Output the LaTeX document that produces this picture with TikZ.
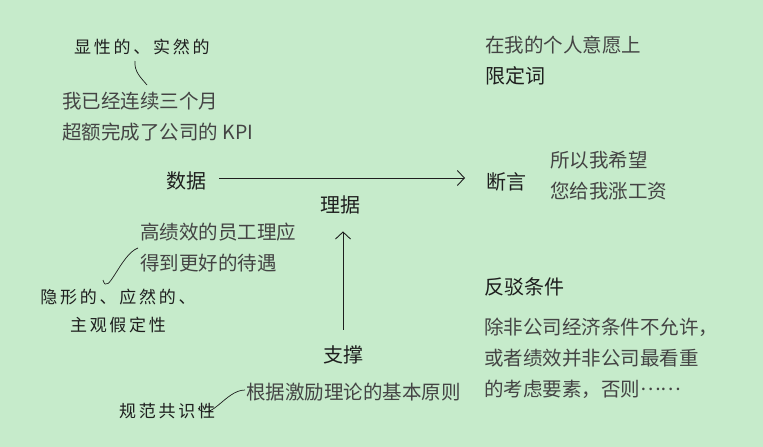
\documentclass[tikz,border=0pt]{standalone}
\usepackage{fontspec}
\usetikzlibrary{arrows.meta}
\newfontfamily\cjk{Noto Sans CJK SC}
\newfontfamily\cjknote[LetterSpace=16]{Noto Sans CJK SC}
\definecolor{bgGreen}{RGB}{198,235,203}
\definecolor{inkDark}{RGB}{30,30,30}
\definecolor{inkBody}{RGB}{68,68,68}
\tikzset{
  part/.style={inner sep=0pt,anchor=west,text=inkDark,font=\cjk\fontsize{20}{31}\selectfont},
  body/.style={inner sep=0pt,anchor=west,align=left,text=inkBody,font=\cjk\fontsize{19.5}{31}\selectfont},
  note/.style={inner sep=0pt,text=inkDark,align=center,font=\cjknote\fontsize{17}{28}\selectfont},
  link/.style={draw=inkDark,line width=.9pt,-{Straight Barb[length=7pt,width=15pt,line width=.9pt]}},
  hand/.style={draw=inkDark,line width=.7pt}
}
\begin{document}
\begin{tikzpicture}[x=1pt,y=-1pt]
  % Background and frame
  \fill[bgGreen] (0,0) rectangle (763,447);
  \useasboundingbox (0,0) rectangle (763,447);

  % Data
  \node[note,anchor=west] (explicit) at (74,47) {显性的、实然的};
  \node[body] (dataText) at (62,117) {我已经连续三个月\\超额完成了公司的 KPI};
  \node[part] (data) at (166,181) {数据};

  % Qualifier and claim
  \node[body] (qualText) at (485,45) {在我的个人意愿上};
  \node[part] (qualifier) at (485,76) {限定词};
  \node[part] (claim) at (486,182) {断言};
  \node[body] (claimText) at (550,176) {所以我希望\\您给我涨工资};

  % Warrant
  \node[part,anchor=center] (warrant) at (340,205) {理据};
  \node[body] (warrantText) at (140,248) {高绩效的员工理应\\得到更好的待遇};
  \node[note] (implicit) at (118,311) {隐形的、应然的、\\主观假定性};

  % Backing
  \node[part,anchor=center] (backing) at (343,355) {支撑};
  \node[body] (backingText) at (246,392) {根据激励理论的基本原则};
  \node[note,anchor=west] (normative) at (119,411) {规范共识性};

  % Rebuttal
  \node[part] (rebuttal) at (484,287) {反驳条件};
  \node[body] (rebuttalText) at (484,358) {除非公司经济条件不允许，\\或者绩效并非公司最看重\\的考虑要素，否则\raisebox{.28em}{……}};

  % Main arrows
  \draw[link] ([xshift=13pt,yshift=3pt]data.east) -- ([xshift=-21pt,yshift=4pt]claim.west);
  \coordinate (warrantFoot) at ([yshift=-17pt]warrant.south);
  \draw[link] ([yshift=16pt]backing.north) -- (warrantFoot -| backing.north);

  % Hand-drawn callouts
  \coordinate (explicitEnd) at (135,61);
  \coordinate (dataEnd) at (147,85);
  \draw[hand] (explicitEnd) to[out=-95,in=130] (dataEnd);
  \coordinate (implicitEnd) at (103,280);
  \coordinate (warrantEnd) at (138,248);
  \draw[hand] (implicitEnd) to[out=-75,in=200] (warrantEnd);
  \coordinate (normativeEnd) at (198,408);
  \coordinate (backingEnd) at (245,390);
  \draw[hand] (normativeEnd) to[out=-50,in=180] (backingEnd);
\end{tikzpicture}
\end{document}
